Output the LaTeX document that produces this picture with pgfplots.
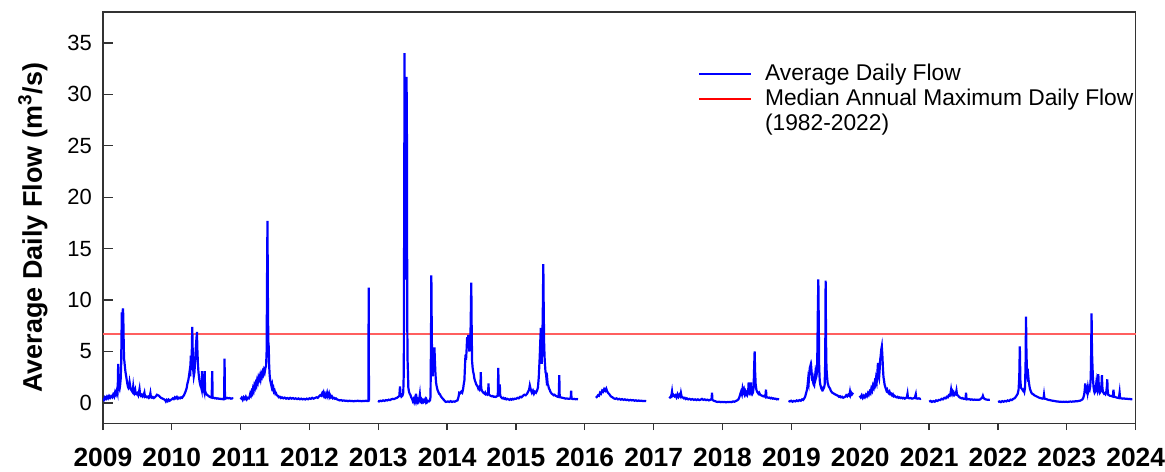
\documentclass[border=0pt]{standalone}
\usepackage{fontspec}
\setmainfont{Liberation Sans}
\usepackage{pgfplots}
\pgfplotsset{compat=1.18}

\definecolor{flowblue}{RGB}{0,0,255}
\definecolor{medianred}{RGB}{255,95,95}

\begin{document}
\begin{tikzpicture}
\begin{axis}[
  scale only axis,
  width=517pt, height=206pt,
  xmin=2009, xmax=2024, ymin=-2, ymax=38,
  xtick={2009,...,2024},
  ytick={0,5,...,35},
  xtick pos=bottom, ytick pos=left,
  xtick align=outside, ytick align=inside,
  xtick style={/pgfplots/major tick length=3.3pt},
  ytick style={/pgfplots/major tick length=5.3pt},
  axis line style={black!80, line width=0.65pt},
  tick style={black!80, line width=0.65pt},
  /pgf/number format/assume math mode=true,
  /pgf/number format/1000 sep={},
  xticklabel style={font=\bfseries\fontsize{13.2}{15}\selectfont, anchor=north, inner sep=0pt, yshift=-7.8pt},
  yticklabel style={font=\fontsize{11}{13}\selectfont, xshift=-2pt},
  ylabel={Average Daily Flow (m\textsuperscript{3}/s)},
  every axis y label/.style={at={(axis description cs:-0.0677,0.476)}, rotate=90, anchor=center,
    font=\bfseries\fontsize{13.5}{15}\selectfont},
  legend style={draw=none, fill=none, at={(axis description cs:0.5765,0.877)}, anchor=north west,
    inner sep=0pt, outer sep=0pt, row sep=0pt,
    font=\fontsize{11.4}{13}\selectfont,
    nodes={inner xsep=0pt, inner ysep=0pt, text height=9pt, text depth=3.6pt},
    /tikz/every odd column/.append style={column sep=6.5pt}},
  legend cell align=left,
]

% median annual maximum daily flow, 1982-2022
\addplot[medianred, line width=1pt, forget plot] coordinates {(2009,6.7) (2024,6.7)};

% average daily flow record (gaps are missing winter data)
\addplot[flowblue, line width=1.1pt, forget plot, unbounded coords=jump] table {
x y
2009.000 0.45
2009.015 0.30
2009.030 0.55
2009.045 0.40
2009.060 0.62
2009.075 0.45
2009.090 0.68
2009.105 0.50
2009.120 0.66
2009.135 0.55
2009.150 0.82
2009.165 0.62
2009.178 1.05
2009.190 0.85
2009.203 1.25
2009.212 1.00
2009.218 2.10
2009.222 3.80
2009.227 2.30
2009.234 1.50
2009.242 1.35
2009.250 1.70
2009.258 2.30
2009.265 3.60
2009.270 6.20
2009.275 8.80
2009.280 7.90
2009.286 8.60
2009.291 9.20
2009.296 8.50
2009.301 6.40
2009.307 4.30
2009.313 4.00
2009.320 3.50
2009.328 3.00
2009.336 2.70
2009.345 2.30
2009.354 1.90
2009.363 1.60
2009.372 1.45
2009.380 1.55
2009.388 2.00
2009.395 1.70
2009.404 1.35
2009.413 1.25
2009.422 1.15
2009.432 1.05
2009.440 1.55
2009.447 1.10
2009.458 0.95
2009.470 1.25
2009.478 0.90
2009.490 0.85
2009.502 0.95
2009.514 0.75
2009.524 1.05
2009.532 1.35
2009.540 0.85
2009.552 0.70
2009.565 0.80
2009.578 0.62
2009.590 0.70
2009.603 1.00
2009.612 0.60
2009.625 0.65
2009.640 0.55
2009.655 0.62
2009.668 0.50
2009.680 0.60
2009.690 0.95
2009.698 0.55
2009.712 0.50
2009.726 0.58
2009.740 0.48
2009.755 0.55
2009.770 0.65
2009.785 0.80
2009.800 0.75
2009.815 0.70
2009.830 0.58
2009.845 0.50
2009.860 0.45
2009.875 0.40
2009.890 0.35
2009.905 0.28
2009.915 0.15
2009.928 0.30
2009.942 0.18
2009.955 0.32
2009.970 0.22
2009.985 0.30
2010.000 0.35
2010.015 0.45
2010.030 0.38
2010.045 0.55
2010.060 0.45
2010.075 0.58
2010.090 0.42
2010.105 0.52
2010.120 0.45
2010.135 0.55
2010.150 0.50
2010.165 0.65
2010.178 0.75
2010.190 0.95
2010.200 1.10
2010.215 1.40
2010.228 1.90
2010.240 2.20
2010.250 2.60
2010.258 3.00
2010.268 2.60
2010.276 4.60
2010.282 3.20
2010.290 4.50
2010.298 7.40
2010.304 5.20
2010.312 3.20
2010.320 2.60
2010.330 3.00
2010.340 4.20
2010.350 5.40
2010.358 6.20
2010.366 6.90
2010.372 5.20
2010.380 3.80
2010.388 3.00
2010.396 2.50
2010.404 2.10
2010.412 1.80
2010.420 1.60
2010.428 1.50
2010.435 1.30
2010.440 3.10
2010.446 1.40
2010.455 1.20
2010.465 1.30
2010.472 1.10
2010.478 3.10
2010.484 1.20
2010.492 1.00
2010.505 0.85
2010.520 0.75
2010.535 0.68
2010.550 0.60
2010.565 0.55
2010.580 0.52
2010.588 3.10
2010.594 0.55
2010.610 0.50
2010.625 0.45
2010.640 0.48
2010.655 0.42
2010.670 0.45
2010.685 0.40
2010.700 0.42
2010.715 0.38
2010.730 0.40
2010.745 0.36
2010.760 0.38
2010.767 4.30
2010.773 0.40
2010.790 0.45
2010.805 0.50
2010.820 0.45
2010.840 0.48
2010.860 0.42
2010.880 0.45
2010.890 0.40
2010.950 nan
2011.000 0.35
2011.015 0.50
2011.030 0.30
2011.045 0.55
2011.060 0.40
2011.075 0.60
2011.090 0.35
2011.105 0.50
2011.120 0.45
2011.130 0.60
2011.140 0.90
2011.150 0.75
2011.160 1.10
2011.170 0.95
2011.180 1.40
2011.190 1.20
2011.200 1.70
2011.210 1.50
2011.220 1.90
2011.230 1.70
2011.240 2.20
2011.250 2.00
2011.260 2.50
2011.270 2.30
2011.280 2.60
2011.290 2.30
2011.300 2.80
2011.310 2.60
2011.320 3.00
2011.330 2.80
2011.340 3.20
2011.350 3.00
2011.360 3.40
2011.370 3.60
2011.378 5.00
2011.384 12.0
2011.390 17.7
2011.396 10.5
2011.402 6.00
2011.408 5.50
2011.415 3.60
2011.422 2.70
2011.430 2.20
2011.440 1.90
2011.450 1.60
2011.458 1.80
2011.466 1.40
2011.475 1.50
2011.484 1.10
2011.494 1.20
2011.505 0.90
2011.515 0.95
2011.525 0.75
2011.540 0.70
2011.555 0.55
2011.570 0.60
2011.585 0.48
2011.600 0.55
2011.620 0.45
2011.640 0.52
2011.660 0.42
2011.680 0.48
2011.700 0.40
2011.720 0.50
2011.740 0.42
2011.760 0.48
2011.780 0.40
2011.800 0.45
2011.820 0.38
2011.840 0.44
2011.860 0.36
2011.880 0.42
2011.900 0.35
2011.920 0.40
2011.940 0.34
2011.960 0.42
2011.980 0.36
2012.000 0.45
2012.020 0.40
2012.040 0.50
2012.060 0.42
2012.080 0.48
2012.100 0.55
2012.120 0.50
2012.140 0.65
2012.155 0.75
2012.170 0.70
2012.185 0.95
2012.195 0.80
2012.205 1.00
2012.215 0.70
2012.225 0.85
2012.235 0.60
2012.245 0.70
2012.255 0.95
2012.262 0.65
2012.272 0.80
2012.282 0.95
2012.290 0.60
2012.300 0.75
2012.312 0.55
2012.325 0.65
2012.340 0.45
2012.355 0.50
2012.370 0.40
2012.385 0.45
2012.400 0.35
2012.420 0.30
2012.440 0.25
2012.460 0.28
2012.480 0.22
2012.500 0.25
2012.520 0.20
2012.540 0.22
2012.560 0.18
2012.580 0.22
2012.600 0.18
2012.620 0.20
2012.640 0.16
2012.660 0.20
2012.680 0.18
2012.700 0.22
2012.720 0.18
2012.740 0.20
2012.760 0.17
2012.780 0.20
2012.800 0.18
2012.820 0.22
2012.840 0.18
2012.856 0.20
2012.860 11.2
2012.864 0.25
2012.870 0.20
2012.930 nan
2012.994 0.20
2013.010 0.15
2013.030 0.22
2013.050 0.18
2013.070 0.25
2013.090 0.20
2013.110 0.28
2013.130 0.24
2013.150 0.32
2013.170 0.28
2013.190 0.36
2013.210 0.40
2013.230 0.38
2013.250 0.45
2013.270 0.50
2013.290 0.60
2013.305 0.70
2013.315 1.60
2013.322 0.80
2013.335 0.60
2013.350 0.70
2013.362 1.00
2013.370 3.00
2013.376 20.0
2013.381 34.0
2013.387 20.0
2013.392 12.0
2013.398 18.0
2013.404 28.0
2013.410 31.7
2013.416 25.0
2013.420 8.00
2013.425 4.10
2013.430 3.00
2013.436 1.50
2013.445 1.10
2013.455 0.90
2013.465 0.80
2013.478 0.55
2013.490 0.40
2013.500 0.20
2013.510 0.35
2013.520 0.12
2013.530 0.40
2013.540 0.20
2013.548 0.90
2013.555 0.25
2013.565 0.10
2013.575 0.30
2013.585 0.15
2013.595 0.40
2013.603 0.80
2013.610 0.20
2013.620 0.10
2013.630 0.30
2013.640 0.12
2013.650 0.25
2013.660 0.10
2013.670 0.20
2013.680 0.35
2013.690 0.12
2013.700 0.30
2013.710 0.10
2013.720 0.20
2013.735 0.15
2013.750 0.25
2013.758 0.60
2013.765 6.00
2013.770 12.4
2013.776 7.00
2013.782 3.20
2013.790 2.60
2013.798 3.80
2013.808 4.80
2013.815 5.40
2013.822 4.00
2013.830 2.80
2013.838 2.00
2013.848 1.60
2013.858 1.30
2013.870 1.10
2013.882 0.90
2013.895 0.85
2013.908 0.65
2013.920 0.55
2013.932 0.45
2013.945 0.35
2013.958 0.25
2013.970 0.15
2013.982 0.10
2013.995 0.12
2014.010 0.15
2014.030 0.10
2014.050 0.18
2014.070 0.10
2014.090 0.15
2014.110 0.12
2014.130 0.20
2014.150 0.25
2014.165 0.60
2014.175 1.00
2014.190 0.95
2014.205 1.10
2014.218 1.00
2014.230 1.30
2014.240 1.80
2014.250 2.20
2014.258 3.50
2014.266 4.70
2014.274 4.20
2014.282 5.20
2014.290 6.40
2014.298 5.80
2014.306 6.60
2014.314 6.20
2014.322 5.00
2014.330 6.00
2014.338 6.50
2014.344 9.00
2014.350 11.7
2014.356 7.00
2014.362 4.00
2014.370 3.40
2014.378 3.00
2014.386 2.80
2014.394 2.40
2014.402 2.20
2014.412 2.00
2014.422 1.80
2014.432 1.70
2014.442 1.60
2014.452 1.40
2014.462 1.50
2014.474 1.30
2014.482 1.40
2014.488 3.00
2014.494 1.40
2014.504 1.20
2014.514 1.10
2014.524 1.00
2014.534 0.95
2014.544 0.90
2014.552 1.00
2014.560 0.85
2014.572 0.90
2014.584 0.80
2014.594 0.85
2014.600 1.90
2014.606 0.85
2014.618 0.75
2014.630 0.70
2014.645 0.65
2014.660 0.68
2014.675 0.60
2014.690 0.62
2014.705 0.58
2014.720 0.65
2014.735 0.70
2014.742 3.40
2014.748 1.20
2014.756 0.80
2014.764 1.80
2014.770 0.70
2014.785 0.55
2014.800 0.45
2014.815 0.50
2014.830 0.40
2014.845 0.45
2014.860 0.35
2014.875 0.40
2014.890 0.35
2014.905 0.30
2014.920 0.38
2014.935 0.32
2014.950 0.40
2014.965 0.35
2014.980 0.42
2015.000 0.40
2015.020 0.50
2015.040 0.45
2015.060 0.60
2015.080 0.55
2015.100 0.70
2015.120 0.80
2015.140 0.75
2015.160 0.90
2015.175 1.10
2015.190 1.30
2015.200 1.70
2015.210 1.40
2015.220 1.20
2015.230 1.00
2015.245 1.20
2015.260 0.90
2015.275 1.10
2015.290 1.00
2015.305 1.20
2015.318 1.50
2015.330 2.50
2015.344 4.50
2015.352 6.00
2015.360 7.30
2015.366 5.50
2015.372 3.80
2015.380 5.50
2015.388 8.50
2015.396 13.5
2015.402 9.00
2015.408 5.80
2015.414 4.50
2015.420 3.80
2015.428 3.00
2015.436 2.80
2015.444 2.20
2015.452 2.40
2015.460 1.80
2015.468 1.70
2015.478 1.40
2015.488 1.30
2015.498 1.10
2015.508 1.00
2015.518 0.90
2015.530 0.85
2015.545 0.75
2015.560 0.80
2015.575 0.70
2015.590 0.65
2015.605 0.60
2015.620 0.58
2015.628 2.70
2015.634 0.60
2015.648 0.55
2015.662 0.52
2015.676 0.50
2015.690 0.48
2015.705 0.45
2015.720 0.42
2015.740 0.44
2015.760 0.40
2015.780 0.42
2015.794 0.45
2015.800 1.20
2015.806 0.42
2015.825 0.38
2015.845 0.40
2015.865 0.36
2015.885 0.38
2015.900 0.36
2016.030 nan
2016.160 0.50
2016.175 0.60
2016.190 0.75
2016.205 0.70
2016.220 1.00
2016.235 0.90
2016.250 1.20
2016.265 1.10
2016.280 1.35
2016.295 1.20
2016.310 1.40
2016.325 1.10
2016.340 0.95
2016.355 0.85
2016.370 0.70
2016.385 0.60
2016.400 0.55
2016.420 0.45
2016.440 0.40
2016.460 0.45
2016.480 0.35
2016.500 0.40
2016.520 0.32
2016.540 0.38
2016.560 0.30
2016.580 0.35
2016.600 0.28
2016.620 0.32
2016.640 0.25
2016.660 0.30
2016.680 0.25
2016.700 0.28
2016.720 0.22
2016.740 0.26
2016.760 0.20
2016.780 0.24
2016.800 0.20
2016.820 0.22
2016.840 0.18
2016.860 0.20
2016.890 0.18
2017.050 nan
2017.226 0.45
2017.245 0.60
2017.258 0.80
2017.265 1.10
2017.272 0.70
2017.285 0.80
2017.300 0.65
2017.315 0.75
2017.330 0.55
2017.345 0.85
2017.360 0.60
2017.375 0.80
2017.388 0.65
2017.395 0.95
2017.405 0.60
2017.420 0.55
2017.435 0.45
2017.450 0.50
2017.465 0.38
2017.480 0.45
2017.500 0.35
2017.520 0.40
2017.540 0.32
2017.560 0.38
2017.580 0.30
2017.600 0.35
2017.620 0.28
2017.640 0.35
2017.660 0.28
2017.680 0.32
2017.700 0.40
2017.720 0.30
2017.740 0.35
2017.760 0.28
2017.780 0.32
2017.800 0.25
2017.820 0.30
2017.840 0.40
2017.846 1.00
2017.852 0.30
2017.870 0.22
2017.890 0.18
2017.910 0.12
2017.930 0.10
2017.950 0.12
2017.970 0.08
2017.990 0.10
2018.010 0.08
2018.030 0.10
2018.050 0.06
2018.070 0.10
2018.090 0.08
2018.110 0.10
2018.130 0.08
2018.150 0.15
2018.170 0.12
2018.190 0.18
2018.210 0.25
2018.230 0.35
2018.245 0.60
2018.258 0.90
2018.268 1.10
2018.280 0.85
2018.290 1.40
2018.300 1.10
2018.310 1.30
2018.320 0.90
2018.330 1.10
2018.340 0.85
2018.350 1.00
2018.360 0.80
2018.370 1.00
2018.378 2.00
2018.386 1.00
2018.395 0.90
2018.405 1.10
2018.412 2.00
2018.418 1.00
2018.428 0.85
2018.440 1.00
2018.450 1.50
2018.458 3.50
2018.465 5.00
2018.472 3.00
2018.480 1.80
2018.490 1.30
2018.500 1.10
2018.510 1.00
2018.520 0.90
2018.530 1.00
2018.545 0.80
2018.560 0.75
2018.575 0.70
2018.590 0.65
2018.605 0.70
2018.620 0.60
2018.630 1.30
2018.636 0.60
2018.650 0.55
2018.665 0.50
2018.680 0.52
2018.695 0.45
2018.710 0.50
2018.725 0.42
2018.740 0.45
2018.755 0.40
2018.770 0.42
2018.785 0.35
2018.800 0.38
2018.820 0.35
2018.890 nan
2018.957 0.20
2018.975 0.15
2018.995 0.22
2019.015 0.12
2019.035 0.20
2019.055 0.15
2019.075 0.25
2019.095 0.18
2019.115 0.28
2019.135 0.22
2019.155 0.35
2019.170 0.30
2019.185 0.45
2019.198 0.60
2019.210 0.90
2019.222 1.20
2019.232 1.60
2019.242 2.30
2019.250 2.00
2019.258 2.80
2019.266 3.40
2019.274 3.60
2019.282 2.80
2019.290 3.20
2019.298 2.50
2019.306 2.60
2019.314 2.00
2019.322 1.80
2019.330 1.70
2019.338 2.20
2019.346 2.80
2019.354 2.40
2019.362 2.60
2019.370 3.00
2019.376 5.00
2019.383 9.00
2019.390 12.0
2019.396 8.00
2019.402 3.50
2019.410 2.20
2019.418 1.80
2019.426 1.60
2019.434 1.40
2019.442 1.30
2019.450 1.40
2019.458 1.30
2019.466 1.40
2019.474 1.50
2019.482 1.80
2019.490 4.00
2019.496 11.9
2019.502 6.00
2019.508 3.40
2019.516 2.60
2019.524 2.00
2019.532 1.80
2019.540 1.60
2019.550 1.50
2019.560 1.40
2019.570 1.20
2019.580 1.10
2019.592 1.00
2019.605 0.95
2019.618 0.90
2019.630 0.85
2019.645 0.80
2019.660 0.75
2019.675 0.70
2019.690 0.60
2019.705 0.65
2019.720 0.55
2019.735 0.60
2019.750 0.50
2019.765 0.55
2019.780 0.60
2019.795 0.75
2019.810 0.65
2019.825 0.80
2019.840 0.70
2019.850 1.10
2019.858 0.80
2019.868 1.00
2019.880 0.85
2019.895 1.00
2019.940 nan
2019.990 0.70
2020.005 0.55
2020.020 0.75
2020.035 0.50
2020.050 0.70
2020.065 0.55
2020.080 0.80
2020.095 0.65
2020.110 0.95
2020.122 0.80
2020.135 1.10
2020.148 0.95
2020.160 1.40
2020.172 1.20
2020.184 1.70
2020.196 1.50
2020.208 2.00
2020.218 1.80
2020.228 2.40
2020.238 2.10
2020.248 3.00
2020.256 3.90
2020.264 2.60
2020.272 2.40
2020.280 3.20
2020.288 4.20
2020.296 4.60
2020.304 5.20
2020.312 5.50
2020.320 4.60
2020.328 3.40
2020.336 2.50
2020.344 2.20
2020.352 1.80
2020.360 1.60
2020.370 1.40
2020.380 1.20
2020.390 1.30
2020.400 1.05
2020.412 0.95
2020.424 1.10
2020.436 0.85
2020.448 0.90
2020.460 0.75
2020.472 0.85
2020.484 0.65
2020.496 0.70
2020.510 0.60
2020.525 0.55
2020.540 0.60
2020.555 0.50
2020.570 0.55
2020.585 0.48
2020.600 0.52
2020.615 0.45
2020.630 0.50
2020.645 0.42
2020.660 0.48
2020.675 0.55
2020.685 0.90
2020.692 0.50
2020.710 0.45
2020.730 0.48
2020.750 0.42
2020.770 0.45
2020.790 0.50
2020.805 0.85
2020.812 0.45
2020.830 0.42
2020.850 0.45
2020.870 0.40
2020.880 0.42
2020.940 nan
2021.000 0.12
2021.020 0.20
2021.040 0.10
2021.060 0.18
2021.080 0.12
2021.100 0.25
2021.120 0.20
2021.140 0.30
2021.160 0.28
2021.180 0.40
2021.200 0.35
2021.220 0.50
2021.240 0.45
2021.255 0.60
2021.270 0.55
2021.285 0.75
2021.298 0.70
2021.310 0.95
2021.318 1.30
2021.326 0.95
2021.336 1.10
2021.346 0.85
2021.356 1.00
2021.366 0.80
2021.376 0.90
2021.386 0.85
2021.396 1.20
2021.404 0.80
2021.414 0.75
2021.426 0.65
2021.440 0.55
2021.455 0.50
2021.470 0.45
2021.485 0.48
2021.500 0.40
2021.515 0.42
2021.528 0.38
2021.535 1.00
2021.542 0.38
2021.560 0.35
2021.580 0.38
2021.600 0.32
2021.620 0.35
2021.640 0.30
2021.660 0.33
2021.680 0.30
2021.700 0.32
2021.720 0.30
2021.740 0.35
2021.758 0.45
2021.772 0.55
2021.780 0.70
2021.790 0.50
2021.805 0.40
2021.820 0.35
2021.840 0.32
2021.860 0.30
2021.880 0.32
2021.940 nan
2022.000 0.10
2022.020 0.15
2022.040 0.08
2022.060 0.18
2022.080 0.12
2022.100 0.20
2022.120 0.15
2022.140 0.25
2022.160 0.20
2022.180 0.32
2022.200 0.28
2022.220 0.40
2022.240 0.45
2022.258 0.60
2022.272 0.75
2022.285 0.90
2022.298 1.30
2022.308 2.50
2022.316 5.50
2022.324 2.20
2022.332 1.50
2022.342 1.40
2022.352 1.30
2022.362 1.20
2022.372 1.30
2022.382 1.10
2022.392 1.50
2022.400 4.00
2022.406 8.40
2022.412 5.00
2022.420 3.00
2022.428 2.60
2022.436 2.80
2022.444 2.20
2022.452 1.80
2022.462 1.40
2022.472 1.20
2022.484 1.00
2022.496 0.90
2022.510 0.85
2022.525 0.75
2022.540 0.70
2022.555 0.65
2022.570 0.60
2022.585 0.55
2022.600 0.50
2022.615 0.48
2022.630 0.45
2022.645 0.42
2022.660 0.45
2022.667 0.80
2022.674 0.42
2022.690 0.40
2022.710 0.35
2022.730 0.30
2022.750 0.28
2022.770 0.25
2022.790 0.22
2022.810 0.20
2022.830 0.18
2022.850 0.15
2022.870 0.14
2022.890 0.12
2022.910 0.12
2022.930 0.10
2022.950 0.12
2022.970 0.10
2022.990 0.12
2023.010 0.10
2023.030 0.12
2023.050 0.14
2023.070 0.12
2023.090 0.15
2023.110 0.14
2023.130 0.18
2023.150 0.16
2023.170 0.20
2023.190 0.22
2023.210 0.28
2023.225 0.35
2023.238 0.50
2023.250 0.80
2023.258 1.20
2023.266 1.90
2023.274 1.20
2023.282 1.10
2023.290 1.30
2023.298 1.00
2023.306 1.50
2023.314 1.20
2023.322 1.40
2023.330 1.30
2023.338 1.60
2023.346 2.50
2023.352 5.00
2023.358 8.70
2023.364 5.00
2023.370 3.80
2023.378 2.40
2023.386 1.60
2023.394 1.20
2023.402 1.00
2023.410 1.10
2023.418 1.40
2023.426 1.90
2023.434 1.40
2023.442 1.20
2023.450 1.60
2023.456 2.80
2023.462 1.80
2023.470 1.20
2023.478 1.00
2023.486 1.10
2023.494 1.30
2023.502 1.80
2023.508 2.70
2023.514 1.60
2023.522 1.10
2023.530 1.00
2023.540 0.90
2023.550 0.95
2023.560 0.85
2023.570 1.00
2023.580 1.60
2023.586 2.30
2023.592 1.20
2023.600 0.80
2023.612 0.75
2023.625 0.70
2023.640 0.68
2023.655 0.65
2023.668 0.62
2023.676 1.30
2023.684 0.62
2023.698 0.58
2023.712 0.55
2023.726 0.52
2023.740 0.50
2023.755 0.48
2023.765 1.00
2023.772 0.48
2023.790 0.45
2023.810 0.42
2023.830 0.44
2023.850 0.40
2023.870 0.42
2023.890 0.38
2023.910 0.40
2023.930 0.36
2023.950 0.38
};

\addlegendimage{legend image code/.code={\draw[flowblue, line width=0.9pt] (0pt,0.7pt) -- (26pt,0.7pt);}}
\addlegendentry{Average Daily Flow}
\addlegendimage{legend image code/.code={\draw[red, line width=0.8pt] (0pt,0.7pt) -- (26pt,0.7pt);}}
\addlegendentry{Median Annual Maximum Daily Flow}
\addlegendimage{empty legend}
\addlegendentry{(1982-2022)}
\end{axis}
\path ([shift={(-51.5pt,-24pt)}]current axis.south west) rectangle ([shift={(14pt,6pt)}]current axis.north east);
\end{tikzpicture}
\end{document}
